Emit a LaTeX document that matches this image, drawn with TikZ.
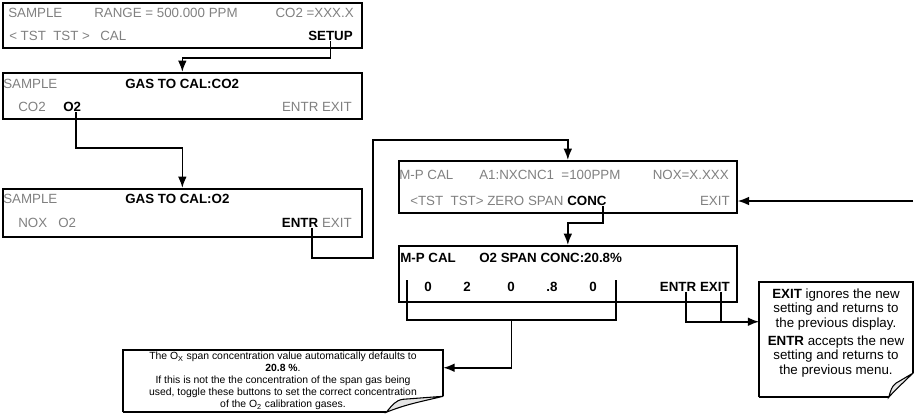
\documentclass[tikz,border=0pt]{standalone}
\usepackage{fontspec}
\setmainfont{Liberation Sans}
\usetikzlibrary{arrows.meta,calc}
\definecolor{softgray}{HTML}{808080}

\begin{document}
\begin{tikzpicture}[x=0.75pt, y=-0.75pt,
  panel/.style = {draw, line width=1.25pt, anchor=north west, inner sep=0},
  lbl/.style = {inner sep=0, text=softgray, text height=7pt, text depth=0pt, font=\fontsize{10}{11}\selectfont},
  key/.style = {lbl, text=black, font=\fontsize{10}{11}\selectfont\bfseries},
  note/.style = {inner sep=0, align=center},
  wire/.style = {line width=1.25pt},
  link/.style = {wire, -{Latex[length=8.5pt,width=6.5pt]}},]

\useasboundingbox (0,0) rectangle (914,415);

% first menu
\node[panel, minimum width=269.25pt, minimum height=33.75pt] (d1) at (2,2) {};
\node[lbl, anchor=west] (s1) at (8,13) {SAMPLE};
\node[lbl, anchor=west] (rng) at (94,13) {RANGE = 500.000 PPM};
\node[lbl, anchor=east] (co2v) at (354,13) {CO2 =XXX.X};
\node[lbl, anchor=west] (tst1) at (9,36) {< TST\ \ TST >};
\node[lbl, anchor=west] (cal) at (100,36) {CAL};
\node[key, anchor=east] (setup) at (353,36) {SETUP};

% gas to cal: co2
\node[panel, minimum width=269.25pt, minimum height=34.5pt] (d2) at (2,72) {};
\node[lbl, anchor=west] (s2) at (3,84) {SAMPLE};
\node[key, anchor=west] (g2) at (125,84) {GAS TO CAL:CO2};
\node[lbl, anchor=west] (co2) at (18,107) {CO2};
\node[key, anchor=west] (o2) at (63,107) {O2};
\node[lbl, anchor=east] (ee2) at (352,107) {ENTR EXIT};

% gas to cal: o2
\node[panel, minimum width=269.25pt, minimum height=36pt] (d3) at (2,188) {};
\node[lbl, anchor=west] (s3) at (3,199) {SAMPLE};
\node[key, anchor=west] (g3) at (125,199) {GAS TO CAL:O2};
\node[lbl, anchor=west] (nox) at (18,223) {NOX};
\node[lbl, anchor=west] (o2b) at (58,223) {O2};
\node[lbl, anchor=east] (exit3) at (352,223) {EXIT};
\node[key, anchor=east] (entr) at ([xshift=-2.5pt]exit3.west) {ENTR};

% m-p cal
\node[panel, minimum width=253.5pt, minimum height=39pt] (d4) at (398,160) {};
\node[lbl, anchor=west] (mp4) at (399,175) {M-P CAL};
\node[lbl, anchor=west] (a1) at (479,175) {A1:NXCNC1\ \ =100PPM};
\node[lbl, anchor=east] (noxv) at (729,175) {NOX=X.XXX};
\node[lbl, anchor=west] (tst4) at (410,201) {<TST\ \ TST>\ ZERO\ SPAN};
\node[key, anchor=west] (conc) at ([xshift=2.5pt]tst4.east) {CONC};
\node[lbl, anchor=east] (exit4) at (730,201) {EXIT};

% o2 span conc
\node[panel, minimum width=253.5pt, minimum height=42pt] (d5) at (398,245) {};
\node[key, anchor=west] (mp5) at (400,258) {M-P CAL};
\node[key, anchor=west] (spn) at (479,258) {O2 SPAN CONC:20.8\%};
\node[key] (n1) at (428,287) {0};
\node[key] (n2) at (467,287) {2};
\node[key] (n3) at (511,287) {0};
\node[key] (n4) at (552,287) {.8};
\node[key] (n5) at (593,287) {0};
\node[key, anchor=east] (exit5) at (730,287) {EXIT};
\node[key, anchor=east] (entr5) at ([xshift=-2.5pt]exit5.west) {ENTR};

% notes
\node[note, minimum width=240pt, minimum height=46.5pt, font=\fontsize{7.8}{9}\selectfont] (tipL) at (283,381)
  {The O\textsubscript{X} span concentration value automatically defaults to\\
   \textbf{20.8 \%}.\\
   If this is not the the concentration of the span gas being\\
   used, toggle these buttons to set the correct concentration\\
   of the O\textsubscript{2} calibration gases.};
\node[note, minimum width=114.75pt, minimum height=86.25pt, font=\fontsize{10}{10.9}\selectfont] (tipR) at (836,339.5)
  {\textbf{EXIT} ignores the new\\ setting and returns to\\ the previous display.\\[2.5pt]
   \textbf{ENTR} accepts the new\\ setting and returns to\\ the previous menu.\\[1pt]};

\draw[wire] (tipL.south west) -- (tipL.north west) -- (tipL.north east) -- ($(tipL.south east)+(0,-16)$);
\draw[wire] (tipL.south west) -- ($(tipL.south east)+(-57,0)$);
\draw[line width=0.8pt, fill=gray!20] ($(tipL.south east)+(0,-16)$) .. controls +(-25,6) and +(20,-8) .. ($(tipL.south east)+(-57,0)$)
  .. controls +(6,-7) and +(-8,1) .. ($(tipL.south east)+(-40,-13)$) -- cycle;

\draw[wire] (tipR.south west) -- (tipR.north west) -- (tipR.north east) -- ($(tipR.south east)+(0,-24)$);
\draw[wire] (tipR.south west) -- ($(tipR.south east)+(-24,0)$);
\draw[line width=0.8pt, fill=gray!20] ($(tipR.south east)+(0,-24)$) .. controls +(-9,9) and +(7,-8) .. ($(tipR.south east)+(-24,0)$)
  .. controls +(2,-7) and +(-4,3) .. ($(tipR.south east)+(-17,-14)$) -- cycle;

% connectors
\draw[link] (setup.south) |- ($(d2.north)+(0,-14)$) -- (d2.north);
\draw[link] ([xshift=-4pt]o2.south east) |- ($(d3.north)+(0,-40)$) -- (d3.north);
\draw[link] ([xshift=-5pt]entr.south east) |- ($(d3.south east)+(10,20)$) |- ($(d4.north)+(0,-20)$) -- (d4.north);
\draw[link] ([xshift=-3pt]conc.south east) |- ($(d5.north)+(0,-22)$) -- (d5.north);
\coordinate (back) at (913,201);
\draw[link] (back) -- (d4.east |- exit4);
\coordinate (brL) at (407,280);
\coordinate (brR) at (616,280);
\draw[wire] (brL) -- ++(0,40) -| (brR);
\draw[link] ($(brL)!0.5!(brR)+(0,40)$) |- ($(tipL.north east)+(0,18)$);
\draw[link] ([xshift=-8pt]entr5.south east) |- ($(tipR.north west)+(0,40)$);
\draw[wire] ([xshift=-7pt]exit5.south east) -- ([xshift=-7pt]exit5.south east |- 0,322);

\end{tikzpicture}
\end{document}
